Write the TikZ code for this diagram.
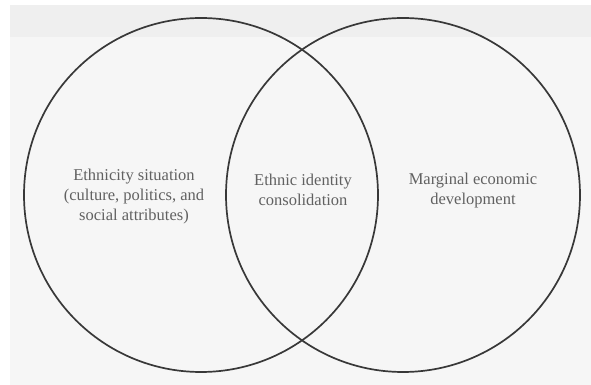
\documentclass[tikz,border=0pt]{standalone}
\usepackage{fontspec}
\setmainfont{Liberation Serif}
\usetikzlibrary{positioning}
\definecolor{bandgray}{HTML}{EFEFEF}
\definecolor{backgray}{HTML}{F6F6F6}

\begin{document}
\begin{tikzpicture}[x=1pt, y=1pt, node distance=1cm,
    every node/.style={inner sep=0pt, outer sep=0pt},
    ring/.style={draw=black!78, line width=1.7pt, circle, minimum size=354pt},
    caption/.style={align=center, text=black!62, font=\fontsize{16.5}{20}\selectfont}]
        % Page and grey backdrop
        \useasboundingbox (0,0) rectangle (591,385);
        \fill[backgray] (10,0) rectangle (591,380);
        \fill[bandgray] (10,348) rectangle (591,380);

        % The two overlapping sets
        \node[ring] (ethnic) at (201,190) {};
        \node[ring] (economic) [right=-152pt of ethnic] {};

        % Texts of the three regions
        \node[caption] (situation) at (134,188)
        {Ethnicity situation\\(culture, politics, and\\social attributes)};
        \node[caption] (identity) at (303,195)
        {Ethnic identity\\consolidation};
        \node[caption] (marginal) at (473,194)
        {Marginal economic\\development};
      \end{tikzpicture}
\end{document}
